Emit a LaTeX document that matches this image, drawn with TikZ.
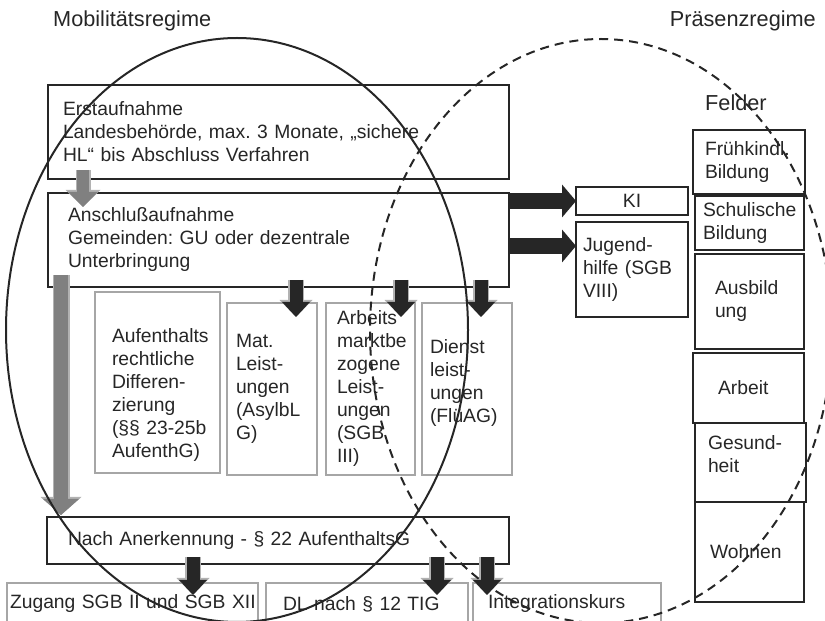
\documentclass[tikz,border=0pt]{standalone}
\usepackage{fontspec}
\setmainfont{Liberation Sans}
\usetikzlibrary{arrows.meta,calc}
\definecolor{boxdark}{RGB}{38,38,38}
\definecolor{boxgray}{RGB}{166,166,166}
\definecolor{arrgray}{RGB}{128,128,128}
\definecolor{arredge}{RGB}{178,178,178}
\newcommand{\bodyfont}{\fontsize{19.3pt}{23pt}\selectfont}
\newcommand{\titlefont}{\fontsize{21.7pt}{26pt}\selectfont}
\hyphenpenalty=10000
\exhyphenpenalty=10000
\frenchspacing

\begin{document}
\begin{tikzpicture}[x=1pt, y=1pt,
    mainbox/.style={draw=boxdark, line width=2pt, anchor=north west, outer sep=0pt, inner ysep=1pt, align=left, font=\bodyfont, text=boxdark},
    subbox/.style={mainbox, draw=boxgray},
    feldbox/.style={mainbox, line width=2.6pt},
    regtitle/.style={inner sep=0pt, font=\titlefont, text=boxdark},
    grayarr/.style={draw=arrgray, line width=12pt, -{Triangle[width=30pt,length=15pt,line width=0pt]},
        preaction={draw=arredge, line width=15pt, -{Triangle[width=35pt,length=17pt,line width=0pt]}}},
    longarr/.style={draw=arrgray, line width=14pt, -{Triangle[width=36pt,length=16pt,line width=0pt]},
        preaction={draw=arredge, line width=17pt, -{Triangle[width=41pt,length=18pt,line width=0pt]}}},
    darkarr/.style={draw=boxdark, line width=13pt, -{Triangle[width=28pt,length=15pt,line width=0pt]},
        preaction={draw=arredge, line width=16pt, -{Triangle[width=33pt,length=17pt,line width=0pt]}}},
    sidearr/.style={draw=boxdark, line width=16pt, -{Triangle[width=33pt,length=14pt,line width=0pt]}}]

    \useasboundingbox (0,0) rectangle (825,621);

    \node[regtitle, anchor=west] (mobil) at (53,600) {Mobilitätsregime};
    \node[regtitle, anchor=east] (praesenz) at (816,600) {Präsenzregime};

    % Aufnahme
    \node[mainbox, minimum width=461pt, minimum height=94pt, inner xsep=15pt, text width=431pt] (erst) at (48,536)
        {Erstaufnahme\\Landesbehörde, max. 3 Monate, „sichere\\HL“ bis Abschluss Verfahren};
    \node[mainbox, minimum width=461pt, minimum height=94pt, inner xsep=20pt, text width=421pt] (ansch) at (48,428)
        {Anschlußaufnahme\\Gemeinden: GU oder dezentrale\\Unterbringung};

    \node[subbox, minimum width=125pt, minimum height=181pt, inner xsep=17pt, text width=91pt] (aufent) at (95,329)
        {\rule{0pt}{40pt}Aufenthalts\\rechtliche\\Differen-\\zierung\\(§§~23-25b\\AufenthG)};
    \node[subbox, minimum width=90pt, minimum height=172pt, inner xsep=9pt, text width=72pt] (mat) at (227,318)
        {Mat.\\Leist-\\ungen\\(AsylbL\\G)};
    \node[subbox, minimum width=89pt, minimum height=172pt, inner xsep=11pt, text width=67pt] (arbmarkt) at (326,318)
        {Arbeits\\marktbe\\zogene\\Leist-\\ungen\\(SGB\\III)};
    \node[subbox, minimum width=90pt, minimum height=172pt, inner xsep=8pt, text width=74pt] (dienst) at (422,318)
        {Dienst\\leist-\\ungen\\(FlüAG)\rule[-16pt]{0pt}{16pt}};

    \node[mainbox, minimum width=462pt, minimum height=47pt, inner xsep=21pt, text width=420pt] (nach) at (47,104)
        {Nach Anerkennung - § 22 AufenthaltsG};
    \node[subbox, minimum width=251pt, minimum height=42pt, inner xsep=3pt, text width=245pt] (zugang) at (7,38)
        {Zugang~SGB~II~und~SGB~XII};
    \node[subbox, minimum width=202pt, minimum height=42pt, inner xsep=17pt, text width=168pt] (dl) at (266,38)
        {DL nach § 12 TIG};
    \node[subbox, minimum width=188pt, minimum height=42pt, inner xsep=15pt, text width=158pt] (integ) at (473,38)
        {Integrationskurs};

    \node[mainbox, line width=2.4pt, minimum width=112pt, minimum height=28pt, inner xsep=0pt, text width=112pt, align=center] (ki) at (576,434) {KI};
    \node[mainbox, line width=2.4pt, minimum width=112pt, minimum height=95pt, inner xsep=7pt, text width=98pt] (jugend) at (576,399)
        {Jugend-\\hilfe (SGB\\VIII)};

    % Felder
    \node[regtitle, anchor=west] (felder) at (705,518) {Felder};
    \node[feldbox, minimum width=112pt, minimum height=64pt, inner xsep=12pt, text width=88pt] (fruehk) at (693,491) {Frühkindl.\\Bildung};
    \node[feldbox, minimum width=109pt, minimum height=54pt, inner xsep=8pt, text width=93pt] (schul) at (695,425) {Schulische\\Bildung};
    \node[feldbox, minimum width=109pt, minimum height=95pt, inner xsep=20pt, text width=69pt] (ausb) at (695,367) {Ausbild\\ung};
    \node[feldbox, minimum width=111pt, minimum height=70pt, inner xsep=25pt, text width=61pt] (arbeit) at (693,268) {Arbeit};
    \node[feldbox, minimum width=111pt, minimum height=79pt, inner xsep=13pt, text width=85pt] (gesund) at (695,198) {Gesund-\\heit\rule[-16pt]{0pt}{16pt}};
    \node[feldbox, minimum width=109pt, minimum height=100pt, inner xsep=15pt, text width=79pt] (wohnen) at (695,119) {Wohnen};

    % arrows
    \draw[grayarr] ($(erst.south west)+(35,9)$) -- ($(ansch.north west)+(35,-14)$);
    \draw[longarr] ($(ansch.south west)+(13,12)$) -- ($(nach.north west)+(14,2)$);

    \draw[darkarr] ($(ansch.south west)+(248,7)$) -- ($(mat.north)+(24,-14)$);
    \draw[darkarr] ($(ansch.south west)+(353,7)$) -- ($(arbmarkt.north)+(30.5,-14)$);
    \draw[darkarr] ($(ansch.south west)+(433,7)$) -- ($(dienst.north)+(14,-14)$);

    \draw[darkarr] ($(nach.south west)+(146,7)$) -- ($(zugang.north)+(60.5,-12)$);
    \draw[darkarr] ($(nach.south west)+(390,7)$) -- ($(dl.north)+(70,-12)$);
    \draw[darkarr] ($(nach.south west)+(440,7)$) -- ($(integ.north)+(-80,-12)$);

    \draw[sidearr] (ansch.east |- ki.west) -- (ki.west);
    \draw[sidearr] ($(ansch.east |- jugend.north west)+(0,-24)$) -- ($(jugend.north west)+(0,-24)$);

    % the two regimes
    \draw[line width=2pt, boxdark] (237,291) ellipse [x radius=231pt, y radius=292pt];
    \draw[line width=2pt, boxdark, dash pattern=on 9pt off 6pt] (601,290) ellipse [x radius=231pt, y radius=292pt];

\end{tikzpicture}
\end{document}
